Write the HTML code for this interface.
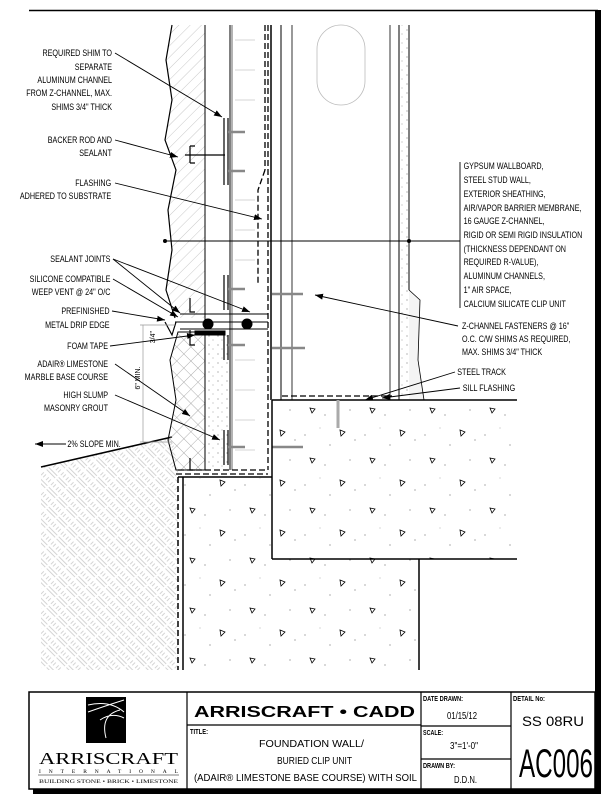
<!DOCTYPE html>
<html><head><meta charset="utf-8"><style>
html,body{margin:0;padding:0;background:#fff}
svg{display:block}
text{font-family:"Liberation Sans",sans-serif;fill:#000}
.l{font-size:9px}
</style></head><body>
<svg width="605" height="800" viewBox="0 0 605 800" xmlns="http://www.w3.org/2000/svg">
<defs>
<pattern id="hatch" width="8" height="8" patternUnits="userSpaceOnUse" patternTransform="rotate(45)">
<line x1="0" y1="0" x2="0" y2="8" stroke="#bbb" stroke-width="0.8"/></pattern>
<pattern id="cross" width="10" height="10" patternUnits="userSpaceOnUse" patternTransform="rotate(45)">
<line x1="0" y1="0" x2="0" y2="10" stroke="#999" stroke-width="0.8"/><line x1="0" y1="0" x2="10" y2="0" stroke="#999" stroke-width="0.8"/></pattern>
<pattern id="soil" width="14" height="14" patternUnits="userSpaceOnUse" patternTransform="rotate(45)">
<path d="M1 2h12M1 5h12M1 9v4M4 9v4M8 9v4M11 9v4" stroke="#d4d4d4" stroke-width="1" fill="none"/></pattern>
<pattern id="conc" width="60" height="50" patternUnits="userSpaceOnUse">
<path d="M10 8l5 1-3 4z M40 30l5 2-4 4z" stroke="#000" stroke-width="0.8" fill="none"/>
<circle cx="25" cy="15" r="0.6" fill="#777"/><circle cx="50" cy="10" r="0.6" fill="#777"/><circle cx="5" cy="35" r="0.6" fill="#777"/><circle cx="30" cy="45" r="0.6" fill="#777"/><circle cx="55" cy="40" r="0.6" fill="#777"/><circle cx="20" cy="28" r="0.5" fill="#999"/></pattern>
<pattern id="dots" width="9" height="9" patternUnits="userSpaceOnUse">
<circle cx="2" cy="3" r="0.6" fill="#888"/><circle cx="6" cy="7" r="0.5" fill="#888"/></pattern>
<marker id="ar" markerWidth="8" markerHeight="6" refX="8" refY="3" orient="auto" markerUnits="userSpaceOnUse"><path d="M0 0L8 3L0 6z" fill="#000"/></marker>
</defs>

<line x1="29" y1="10.5" x2="598" y2="10.5" stroke="#000" stroke-width="1.5"/>
<rect x="595" y="10" width="6" height="784" fill="#000"/>

<path d="M41 467 L172 436 L178 470 L178 670 L41 670 Z" fill="url(#soil)"/>
<line x1="41" y1="467" x2="172" y2="437" stroke="#000" stroke-width="1.5"/>

<path d="M172 25 L166 60 L172 100 L165 140 L176 170 L168 210 L172 250 L166 290 L175 318 L205 318 L205 25 Z" fill="url(#hatch)"/>
<path d="M172 25 L166 60 L172 100 L165 140 L176 170 L168 210 L172 250 L166 290 L175 318" fill="none" stroke="#000" stroke-width="1.2"/>
<path d="M178 332 L170 360 L176 400 L168 440 L176 470 L205 470 L205 332 Z" fill="url(#cross)" stroke="#000" stroke-width="1"/>
<rect x="207" y="332" width="23" height="135" fill="url(#dots)"/>

<g stroke="#000" fill="none">
<line x1="205" y1="25" x2="205" y2="320" stroke-width="1"/>
<line x1="230" y1="25" x2="230" y2="470" stroke-width="1"/>
<line x1="232" y1="25" x2="232" y2="470" stroke-width="0.6"/>
<line x1="265" y1="25" x2="265" y2="170" stroke-width="1.3" stroke-dasharray="6,3"/>
<path d="M265 170 L258 190 L258 285" stroke-width="1.3" stroke-dasharray="6,3"/>
<line x1="268" y1="25" x2="268" y2="470" stroke-width="1.3" stroke-dasharray="6,3"/>
<line x1="271" y1="25" x2="271" y2="400" stroke-width="1.5"/>
<line x1="281" y1="25" x2="281" y2="400" stroke-width="1"/>
<line x1="292" y1="25" x2="292" y2="400" stroke-width="0.8"/>
<line x1="390" y1="25" x2="390" y2="400" stroke-width="0.8"/>
<line x1="399" y1="25" x2="399" y2="400" stroke-width="1"/>
<line x1="409" y1="25" x2="409" y2="290" stroke-width="1"/>
<rect x="317" y="25" width="48" height="80" rx="24" stroke="#bbb" stroke-width="0.8"/>
<rect x="399" y="25" width="10" height="370" fill="url(#dots)" stroke="none"/>
<path d="M409 290 L420 300 L418 360 L424 400 L409 400" stroke-width="0.8" fill="#f4f4f4"/>
<line x1="165" y1="241" x2="460" y2="241" stroke-width="0.9"/>
<circle cx="165" cy="241" r="1.5" fill="#000"/><circle cx="409" cy="241" r="1.5" fill="#000"/>
<line x1="460" y1="162" x2="460" y2="308" stroke-width="0.9"/>
<g stroke="#aaa" stroke-width="0.6">
<line x1="235" y1="40" x2="255" y2="40"/><line x1="235" y1="70" x2="255" y2="70"/><line x1="235" y1="100" x2="255" y2="100"/><line x1="235" y1="200" x2="255" y2="200"/><line x1="235" y1="230" x2="255" y2="230"/><line x1="235" y1="260" x2="255" y2="260"/><line x1="235" y1="360" x2="255" y2="360"/><line x1="235" y1="390" x2="255" y2="390"/><line x1="235" y1="420" x2="255" y2="420"/><line x1="235" y1="450" x2="255" y2="450"/></g>
<g stroke-width="1.2">
<path d="M224 118 L224 185 M228 118 L228 185"/>
<path d="M190 146 L190 163 M185 155 L225 155 M190 146 h5 M190 163 h5"/>
<path d="M224 275 L224 310 M228 275 L228 310"/>
<path d="M190 298 L190 312 h5 M190 330 L190 345 h5"/>
<path d="M224 335 L224 360 M228 335 L228 360"/>
<path d="M224 430 L224 465 M228 430 L228 465"/>
<path d="M190 458 L190 470 h5"/>
<path d="M180 314 L268 314 M175 322 L268 322 M180 329 L268 329" stroke-width="1"/>
<path d="M165 322 L172 335 L176 322"/>
</g>
<circle cx="208" cy="324" r="5" fill="#000"/><circle cx="247" cy="324" r="5" fill="#000"/>
<rect x="195" y="331" width="30" height="4" fill="#000"/>
<g stroke="#888" stroke-width="2.5">
<line x1="272" y1="294" x2="303" y2="294"/><line x1="272" y1="348" x2="305" y2="348"/><line x1="272" y1="447" x2="303" y2="447"/>
<line x1="228" y1="132" x2="245" y2="132"/><line x1="228" y1="171" x2="245" y2="171"/><line x1="228" y1="289" x2="245" y2="289"/><line x1="228" y1="345" x2="245" y2="345"/><line x1="228" y1="447" x2="245" y2="447"/>
</g>
<path d="M178 470 L268 470 M176 474 L268 474" stroke-width="1.2" stroke-dasharray="6,3"/>
<line x1="178" y1="477" x2="272" y2="477" stroke-width="1.5"/>
<line x1="178" y1="477" x2="178" y2="670" stroke-width="1.5" stroke-dasharray="6,3"/>
<line x1="183" y1="477" x2="183" y2="670" stroke-width="1.5"/>
</g>
<path d="M272 400 L517 400 L517 559 L419 559 L419 670 L184 670 L184 478 L272 478 Z" fill="url(#conc)"/>
<g stroke="#000" fill="none" stroke-width="1.5">
<line x1="272" y1="400" x2="517" y2="400"/>
<line x1="272" y1="400" x2="272" y2="559"/>
<line x1="272" y1="559" x2="517" y2="559"/>
<line x1="419" y1="559" x2="419" y2="670"/>
<path d="M282 396 L392 396" stroke-dasharray="6,3" stroke-width="1.2"/>
<path d="M338 400 v28" stroke="#aaa" stroke-width="3"/>
</g>
<g stroke="#999" stroke-width="0.7" fill="none"><line x1="143" y1="325" x2="143" y2="442"/><line x1="140" y1="325" x2="175" y2="325"/><line x1="140" y1="442" x2="172" y2="442"/></g>
<text class="l" transform="translate(155,331) rotate(-90)" text-anchor="end" style="font-size:7px">3/4"</text>
<text class="l" transform="translate(140,378) rotate(-90)" text-anchor="middle" style="font-size:7px">6" MIN.</text>

<g stroke="#000" stroke-width="0.9" fill="none" marker-end="url(#ar)">
<path d="M115 53 L222 117"/>
<path d="M115 140 L178 157"/>
<path d="M115 183 L262 219"/>
<path d="M113 259 L180 313"/>
<path d="M113 259 L250 312"/>
<path d="M113 279 L178 317"/>
<path d="M112 311 L165 320"/>
<path d="M110 346 L195 335"/>
<path d="M115 364 L190 416"/>
<path d="M115 395 L220 440"/>
<path d="M66 444 L35 444"/>
<path d="M458 326 L315 295"/>
<path d="M455 372 L365 400"/>
<path d="M460 388 L382 398"/>
</g>

<g class="l" text-anchor="end" transform="translate(112,0) scale(0.8,1) translate(-112,0)">
<text x="112" y="56">REQUIRED SHIM TO</text>
<text x="112" y="70">SEPARATE</text>
<text x="112" y="83">ALUMINUM CHANNEL</text>
<text x="112" y="96">FROM Z-CHANNEL, MAX.</text>
<text x="112" y="110">SHIMS 3/4" THICK</text>
<text x="112" y="143">BACKER ROD AND</text>
<text x="112" y="156">SEALANT</text>
<text x="111" y="186">FLASHING</text>
<text x="111" y="199">ADHERED TO SUBSTRATE</text>
<text x="110" y="262">SEALANT JOINTS</text>
<text x="110" y="282">SILICONE COMPATIBLE</text>
<text x="110" y="295">WEEP VENT @ 24" O/C</text>
<text x="109" y="314">PREFINISHED</text>
<text x="109" y="328">METAL DRIP EDGE</text>
<text x="107" y="349">FOAM TAPE</text>
<text x="107" y="367">ADAIR® LIMESTONE</text>
<text x="107" y="380">MARBLE BASE COURSE</text>
<text x="107" y="398">HIGH SLUMP</text>
<text x="107" y="411">MASONRY GROUT</text>
<text x="123" y="447">2% SLOPE MIN.</text>
</g>
<g class="l" transform="translate(462,0) scale(0.8,1) translate(-462,0)">
<text x="464" y="169">GYPSUM WALLBOARD,</text>
<text x="464" y="183">STEEL STUD WALL,</text>
<text x="464" y="197">EXTERIOR SHEATHING,</text>
<text x="464" y="211">AIR/VAPOR BARRIER MEMBRANE,</text>
<text x="464" y="224">16 GAUGE Z-CHANNEL,</text>
<text x="464" y="238">RIGID OR SEMI RIGID INSULATION</text>
<text x="464" y="252">(THICKNESS DEPENDANT ON</text>
<text x="464" y="265">REQUIRED R-VALUE),</text>
<text x="464" y="279">ALUMINUM CHANNELS,</text>
<text x="464" y="293">1" AIR SPACE,</text>
<text x="464" y="307">CALCIUM SILICATE CLIP UNIT</text>
<text x="462" y="329">Z-CHANNEL FASTENERS @ 16"</text>
<text x="462" y="342">O.C. C/W SHIMS AS REQUIRED,</text>
<text x="462" y="355">MAX. SHIMS 3/4" THICK</text>
<text x="456" y="375">STEEL TRACK</text>
<text x="463" y="391">SILL FLASHING</text>
</g>

<rect x="29" y="692" width="566" height="97" fill="#fff" stroke="#000" stroke-width="1.5"/>
<rect x="33" y="789" width="568" height="5" fill="#000"/>
<g stroke="#000" stroke-width="1.2">
<line x1="187" y1="692" x2="187" y2="789"/><line x1="421" y1="692" x2="421" y2="789"/><line x1="511" y1="692" x2="511" y2="789"/>
<line x1="187" y1="725" x2="421" y2="725"/><line x1="421" y1="726" x2="511" y2="726"/><line x1="421" y1="759" x2="511" y2="759"/>
</g>
<rect x="86" y="697" width="40" height="46" fill="#000"/>
<path d="M88 705 Q110 700 124 712 M88 712 Q105 706 124 700 M120 710 Q100 715 106 738 M100 720 Q112 712 124 718" stroke="#fff" stroke-width="1" fill="none"/>
<text x="39" y="764" style="font-family:'Liberation Serif',serif;font-size:17px" textLength="139" lengthAdjust="spacingAndGlyphs">ARRISCRAFT</text>
<text x="39" y="773" style="font-family:'Liberation Serif',serif;font-size:5.5px" textLength="139" lengthAdjust="spacing">INTERNATIONAL</text>
<line x1="38" y1="775" x2="179" y2="775" stroke="#000" stroke-width="0.5"/>
<text x="39" y="783" style="font-family:'Liberation Serif',serif;font-size:5.6px" textLength="139" lengthAdjust="spacingAndGlyphs">BUILDING STONE • BRICK • LIMESTONE</text>
<text x="194" y="717" style="font-weight:bold;font-size:16px" textLength="221" lengthAdjust="spacingAndGlyphs">ARRISCRAFT • CADD</text>
<text x="190" y="734" style="font-size:7px;font-weight:bold" textLength="18" lengthAdjust="spacingAndGlyphs">TITLE:</text>
<g style="font-size:10.5px">
<text x="259" y="747" textLength="105" lengthAdjust="spacingAndGlyphs">FOUNDATION WALL/</text>
<text x="277" y="764" textLength="75" lengthAdjust="spacingAndGlyphs">BURIED CLIP UNIT</text>
<text x="194" y="781" textLength="223" lengthAdjust="spacingAndGlyphs">(ADAIR® LIMESTONE BASE COURSE) WITH SOIL</text>
</g>
<g style="font-size:7px;font-weight:bold"><text x="423" y="701" textLength="40" lengthAdjust="spacingAndGlyphs">DATE DRAWN:</text><text x="423" y="735" textLength="20" lengthAdjust="spacingAndGlyphs">SCALE:</text><text x="423" y="768" textLength="32" lengthAdjust="spacingAndGlyphs">DRAWN BY:</text><text x="513" y="701" textLength="32" lengthAdjust="spacingAndGlyphs">DETAIL No:</text></g>
<g style="font-size:10px"><text x="447" y="719" textLength="30" lengthAdjust="spacingAndGlyphs">01/15/12</text><text x="450" y="749" textLength="28" lengthAdjust="spacingAndGlyphs">3"=1'-0"</text><text x="454" y="783" textLength="23" lengthAdjust="spacingAndGlyphs">D.D.N.</text></g>
<text x="522" y="726" style="font-size:14px" textLength="62" lengthAdjust="spacingAndGlyphs">SS 08RU</text>
<text x="519" y="777" style="font-size:40px" textLength="74" lengthAdjust="spacingAndGlyphs">AC006</text>
</svg>
</body></html>
